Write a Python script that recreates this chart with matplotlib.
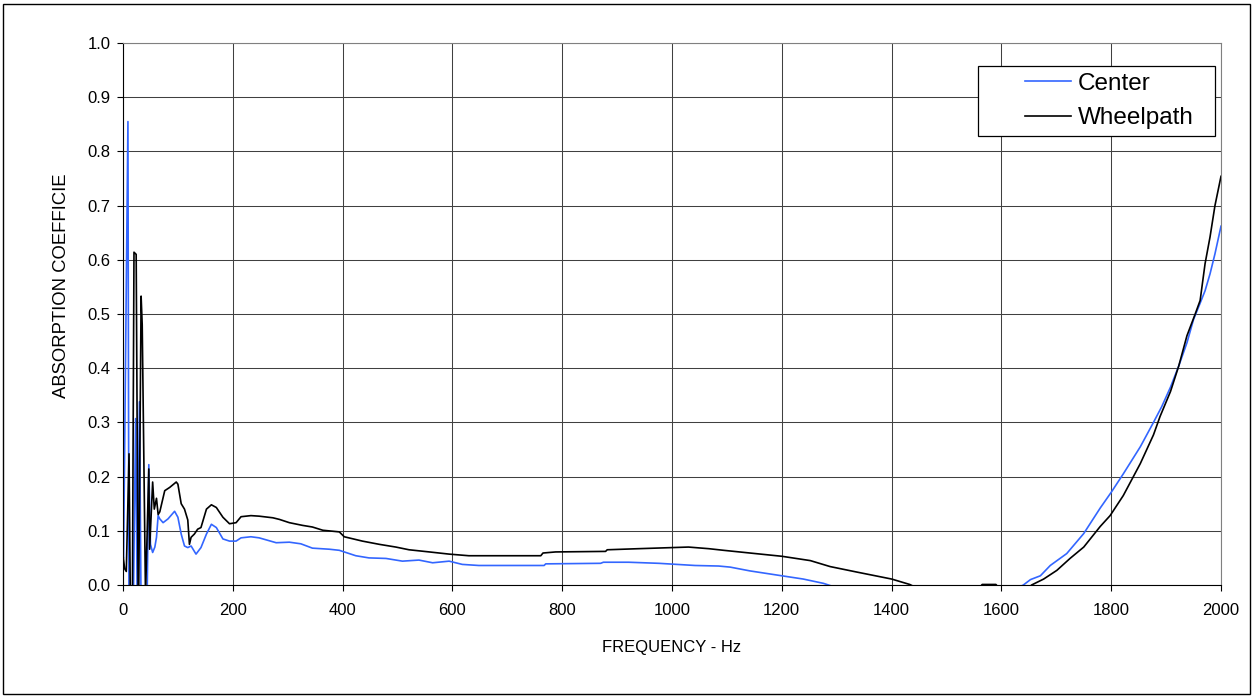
import numpy as np
import matplotlib.pyplot as plt
from matplotlib.patches import Rectangle

centerFreq = [0, 1, 9, 11, 19, 23, 26, 30, 33, 42, 44, 47, 50, 54, 58, 61, 64, 67, 73, 82,
              94, 100, 106, 112, 118, 124, 133, 142, 152, 161, 170, 182, 194, 206, 215, 233,
              248, 279, 303, 324, 345, 376, 394, 424, 448, 479, 509, 539, 564, 594, 618, 648,
              667, 767, 770, 870, 875, 921, 976, 1042, 1085, 1106, 1142, 1200, 1239, 1276,
              1300, 1630, 1640, 1653, 1671, 1689, 1719, 1750, 1780, 1800, 1822, 1853, 1877,
              1892, 1908, 1923, 1938, 1950, 1962, 1971, 1980, 1989, 2000]
centerValues = [0.05, 0.05, 0.855, -0.1, -0.02, 0.307, -0.05, 0.338, -0.05, -0.05, -0.02, 0.222,
                0.075, 0.06, 0.07, 0.088, 0.128, 0.122, 0.115, 0.122, 0.136, 0.125, 0.094,
                0.072, 0.069, 0.072, 0.057, 0.069, 0.094, 0.112, 0.106, 0.085, 0.081, 0.081,
                0.087, 0.089, 0.087, 0.078, 0.079, 0.076, 0.068, 0.066, 0.064, 0.054, 0.050,
                0.049, 0.044, 0.046, 0.041, 0.044, 0.038, 0.036, 0.036, 0.036, 0.039, 0.040,
                0.042, 0.042, 0.040, 0.036, 0.035, 0.033, 0.026, 0.017, 0.011, 0.003, -0.005,
                -0.005, 0.0, 0.010, 0.017, 0.036, 0.058, 0.095, 0.142, 0.171, 0.205, 0.255,
                0.300, 0.329, 0.365, 0.404, 0.447, 0.490, 0.520, 0.543, 0.574, 0.611, 0.662]

wheelFreq = [0, 3, 6, 11, 14, 17, 20, 24, 28, 33, 35, 41, 47, 48.5, 54, 57, 61, 64, 67, 76,
             85, 97, 100, 106, 112, 118, 121, 124, 130, 136, 142, 152, 161, 170, 182, 194,
             206, 215, 233, 248, 273, 285, 303, 327, 345, 364, 394, 403, 436, 467, 497, 521,
             558, 594, 630, 648, 761, 765, 788, 879, 882, 939, 1030, 1067, 1094, 1142, 1200,
             1252, 1288, 1336, 1400, 1433, 1445, 1560, 1565, 1590, 1595, 1650, 1655, 1677,
             1701, 1725, 1750, 1780, 1798, 1822, 1853, 1877, 1889, 1908, 1923, 1938, 1953,
             1962, 1971, 1980, 1989, 2000]
wheelValues = [0.055, 0.03, 0.025, 0.242, -0.1, -0.05, 0.614, 0.61, -0.1, 0.533, 0.48, -0.02,
               0.214, 0.066, 0.19, 0.14, 0.16, 0.13, 0.135, 0.174, 0.18, 0.19, 0.186, 0.15,
               0.14, 0.12, 0.075, 0.088, 0.094, 0.103, 0.106, 0.14, 0.148, 0.143, 0.125,
               0.113, 0.115, 0.126, 0.128, 0.127, 0.124, 0.121, 0.115, 0.110, 0.107, 0.101,
               0.098, 0.089, 0.081, 0.075, 0.070, 0.065, 0.061, 0.057, 0.054, 0.054, 0.054,
               0.059, 0.061, 0.062, 0.065, 0.067, 0.070, 0.067, 0.064, 0.059, 0.053, 0.045,
               0.034, 0.024, 0.011, 0.001, -0.005, -0.005, 0.001, 0.001, -0.005, -0.005, 0.0,
               0.011, 0.027, 0.049, 0.070, 0.108, 0.128, 0.165, 0.224, 0.277, 0.311, 0.357,
               0.404, 0.460, 0.500, 0.525, 0.593, 0.642, 0.700, 0.754]

plt.rcParams['font.family'] = ['Liberation Sans', 'DejaVu Sans']

fig = plt.figure(figsize=(12.54, 6.98), dpi=100)
ax = fig.add_axes([123 / 1254, 1 - 585 / 698, 1098 / 1254, 542 / 698])

ax.plot(centerFreq, centerValues, color='#3366FF', linewidth=1.2, label='Center')
ax.plot(wheelFreq, wheelValues, color='black', linewidth=1.2, label='Wheelpath')

ax.set_xlim(0, 2000)
ax.set_ylim(0, 1.0)
ax.set_xticks(np.arange(0, 2001, 200))
ax.set_yticks(np.arange(0, 1.01, 0.1))
ax.set_yticklabels([f'{v:.1f}' for v in np.arange(0, 1.01, 0.1)])
ax.tick_params(axis='both', labelsize=12, length=4, width=0.8, direction='out')
ax.tick_params(axis='x', pad=9)
ax.tick_params(axis='y', pad=5)
ax.grid(True, color='#404040', linewidth=0.75)
ax.set_axisbelow(True)

for side in ['left', 'bottom']:
    ax.spines[side].set_color('black')
    ax.spines[side].set_linewidth(0.8)
for side in ['top', 'right']:
    ax.spines[side].set_color('#808080')
    ax.spines[side].set_linewidth(0.8)

ax.set_xlabel('FREQUENCY - Hz', fontsize=12, labelpad=16)
fig.text(61 / 1254, 1 - 286 / 698, 'ABSORPTION COEFFICIE', fontsize=13.3,
         rotation=90, ha='center', va='center')

leg = ax.legend(loc='center left', bbox_to_anchor=((1013 - 123) / 1098, (585 - 101) / 542),
                frameon=False, fontsize=17.5, handlelength=1.9, handletextpad=0.25,
                labelspacing=0.5, borderpad=0)
ax.add_patch(Rectangle(((978 - 123) / 1098, (585 - 136) / 542), 237 / 1098, 70 / 542,
                       transform=ax.transAxes, facecolor='white', edgecolor='black',
                       linewidth=0.9, zorder=4))
leg.set_zorder(5)

fig.patches.append(Rectangle((3 / 1254, 4 / 698), 1247 / 1254, 690 / 698,
                             transform=fig.transFigure, fill=False,
                             edgecolor='black', linewidth=1))

fig.savefig('out.png', dpi=100)
